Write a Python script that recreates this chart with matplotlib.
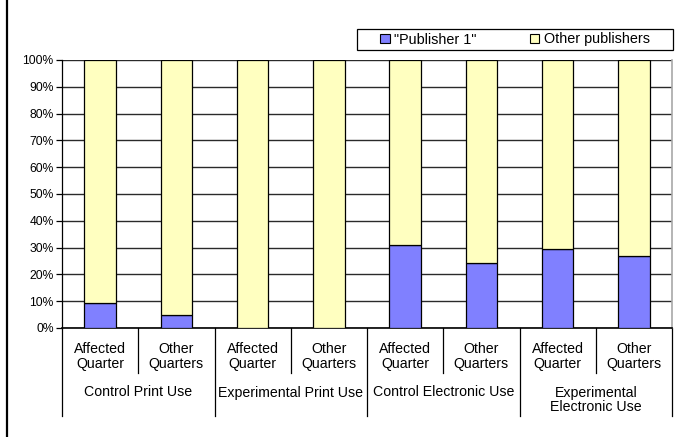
import matplotlib
matplotlib.use("Agg")
import matplotlib.pyplot as plt
from matplotlib.lines import Line2D
from matplotlib.patches import Rectangle, Patch
import numpy as np

plt.rcParams['font.family'] = ['Liberation Sans', 'DejaVu Sans']

groups = ["Control Print Use", "Experimental Print Use", "Control Electronic Use",
          "Experimental\nElectronic Use"]
sub_labels = ["Affected\nQuarter", "Other\nQuarters"] * 4
publisher1 = [9.4, 4.7, 0.0, 0.0, 30.9, 24.1, 29.4, 26.7]
others = [100 - v for v in publisher1]
series_names = ['"Publisher 1"', "Other publishers"]
yticks = list(range(0, 101, 10))

W, H = 690, 437
fig = plt.figure(figsize=(W / 100, H / 100), dpi=100)
x0, x1, y0, y1 = 62, 672, 60, 328
ax = fig.add_axes([x0 / W, 1 - y1 / H, (x1 - x0) / W, (y1 - y0) / H])

c_pub = "#8080FF"
c_oth = "#FFFFC0"
x = np.arange(len(publisher1))
ax.bar(x, publisher1, width=0.41, color=c_pub, edgecolor="black", linewidth=0.9, zorder=3)
ax.bar(x, others, width=0.41, bottom=publisher1, color=c_oth, edgecolor="black",
       linewidth=0.9, zorder=3)

ax.set_xlim(-0.5, len(x) - 0.5)
ax.set_ylim(0, 100)
ax.set_yticks(yticks)
ax.set_yticklabels([f"{t}%" for t in yticks], fontsize=8.7)
ax.tick_params(axis="y", length=4, width=0.9, color="black", pad=2)
ax.set_xticks([])
ax.yaxis.grid(True, color="#2a2a2a", linewidth=1.0, zorder=1)
ax.set_axisbelow(True)
ax.spines["top"].set_visible(False)
ax.spines["right"].set_color("#a8a8a8")
ax.spines["right"].set_linewidth(1.2)
ax.spines["left"].set_color("black")
ax.spines["left"].set_linewidth(0.9)
ax.spines["bottom"].set_color("black")
ax.spines["bottom"].set_linewidth(1.2)

# category separator lines and labels below axis
tr = ax.get_xaxis_transform()
def fy(py):
    return (y1 - py) / (y1 - y0)

for b in np.arange(-0.5, len(x), 1.0):
    is_group = int(round(b + 0.5)) % 2 == 0
    ybot = 416 if is_group else 373
    ax.add_line(Line2D([b, b], [0, fy(ybot)], transform=tr, color="black",
                       linewidth=0.9, clip_on=False))

for i, lab in enumerate(sub_labels):
    ax.text(x[i], fy(342), lab, transform=tr, ha="center", va="top",
            fontsize=10.2, linespacing=1.05)
for g, lab in enumerate(groups):
    ax.text(2 * g + 0.5, fy(385.5), lab, transform=tr, ha="center", va="top",
            fontsize=10.2, linespacing=1.05)

# legend
fig.patches.append(Rectangle((357 / W, 1 - 50 / H), (673 - 357) / W, 21 / H,
                             transform=fig.transFigure, facecolor="white",
                             edgecolor="black", linewidth=0.9))
handles = [Patch(facecolor=c_pub, edgecolor="black", linewidth=0.8),
           Patch(facecolor=c_oth, edgecolor="black", linewidth=0.8)]
fig.legend(handles, series_names, loc="center", ncol=2,
           bbox_to_anchor=(515 / W, 1 - 39.5 / H), frameon=False, fontsize=10.4,
           handlelength=0.65, handleheight=0.65, handletextpad=0.3,
           columnspacing=3.7, borderpad=0)

# left frame line
fig.add_artist(Line2D([7 / W, 7 / W], [0, 1], transform=fig.transFigure,
                      color="black", linewidth=1.6))

fig.savefig("out.png", dpi=100)
